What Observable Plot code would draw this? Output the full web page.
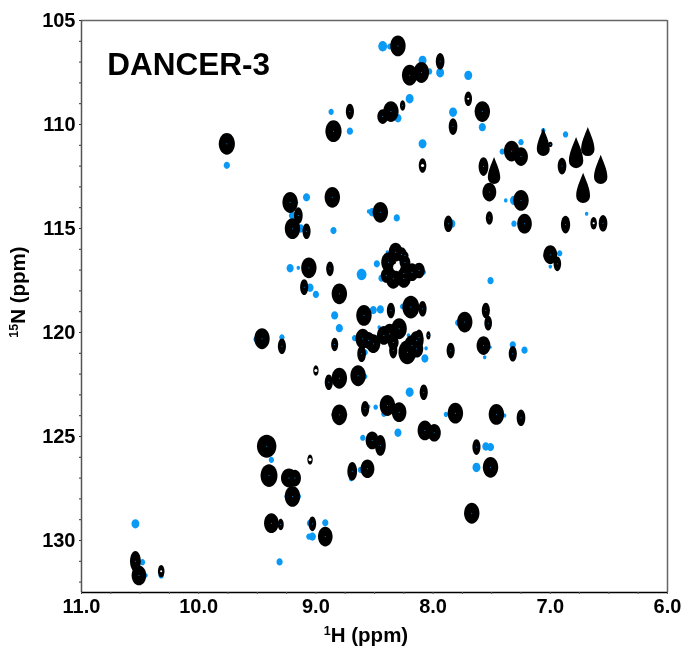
<!DOCTYPE html>
<html><head><meta charset="utf-8">
<script src="https://cdn.jsdelivr.net/npm/d3@7"></script>
<script src="https://cdn.jsdelivr.net/npm/@observablehq/plot@0.6"></script>
<style>html,body{margin:0;padding:0;background:#fff}svg{display:block;filter:blur(0.35px)}</style>
</head><body><div id="chart"></div>
<script>
// Peak tables: 1H shift (ppm), 15N shift (ppm), apparent peak size
const ovalH=[9.76,8.85,8.86,9.22,9.20,9.06,8.80,8.30,8.20,8.10,7.58,8.36,8.43,7.33,7.25,7.52,7.25,8.45,7.22,7.00,8.32,8.38,8.34,8.18,8.12,8.25,8.19,7.73,8.37,8.42,8.51,8.60,8.59,8.14,8.22,7.57,8.39,8.29,7.81,7.46,8.07,7.99,8.52,7.51,8.56,7.67,9.46,8.80,8.64,8.80,9.40,9.18,9.20,9.38,8.92,10.51,8.29,8.24,8.25,8.40,8.18,8.14,8.34,8.55,8.27];
const ovalN=[110.93,110.32,113.50,113.75,115.01,116.89,118.14,106.22,107.63,107.50,109.38,109.38,109.62,111.28,111.54,113.25,113.65,114.22,114.77,116.26,116.14,116.62,117.42,117.10,117.02,117.16,118.78,119.50,120.06,120.14,120.54,120.30,119.18,120.78,120.95,120.63,123.51,123.83,123.88,123.94,124.71,124.82,125.19,126.48,126.55,128.69,120.30,122.20,122.08,123.96,126.88,127.00,127.88,129.17,129.81,131.68,119.82,116.64,117.40,117.26,120.63,120.38,120.48,120.38,116.25];
const ovalSize=[21,21,20,20,20,20,20,20,20,20,20,20,14,20,18,18,20,20,19,18,18,19,19,17,15,15,22,20,19,18,18,19,20,17,23,18,20,19,20,20,19,17,17,20,18,20,20,20,20,20,22,16,20,19,19,19,20,14,18,14,20,18,14,16,14];

const slimH=[8.71,9.15,9.08,8.88,9.10,7.94,7.70,7.83,8.09,8.26,6.90,7.57,7.52,7.87,6.87,6.63,6.55,6.94,8.09,8.36,7.55,7.53,8.04,8.61,8.12,8.34,7.85,7.32,8.08,7.25,8.45,7.63,9.29,8.84,9.00,8.89,8.58,9.05,8.69,9.30,9.03,10.54,10.32];
const slimN=[109.38,114.38,115.13,116.94,117.82,106.96,108.76,110.10,111.97,109.09,112.00,112.02,114.49,114.77,114.81,114.75,114.75,116.70,118.86,118.94,118.94,119.55,120.14,121.02,120.25,120.87,120.87,121.02,122.87,124.10,125.43,125.51,120.66,120.58,121.83,122.39,123.67,126.11,126.67,129.23,129.20,131.00,131.48];
const slimSize=[15,16,15,14,15,16,14,16,14,10,16,18,13,16,17,12,16,14,15,15,15,14,8,16,16,15,15,15,15,16,20,15,15,13,10,15,15,10,18,11,14,20,12];

const dropH=[7.06,6.78,6.68,6.57,7.48,6.72];
const dropN=[110.84,111.35,110.82,112.16,112.21,113.05];
const dropSize=[27,30,28,28,26,29];

const roundH=[9.42,9.23,8.24,7.00];
const roundN=[125.47,126.99,116.30,110.96];
const roundSize=[22,18,8,5];

const blueH=[9.76,9.76,8.87,8.71,9.08,8.85,8.55,9.20,9.22,9.15,9.13,9.05,9.00,8.61,9.17,8.89,8.88,8.43,8.37,8.09,7.94,8.03,7.70,8.20,7.83,7.58,8.30,8.09,7.41,7.25,7.06,6.87,6.69,7.31,7.38,7.31,7.84,8.31,7.51,8.52,8.48,8.44,8.08,7.00,7.04,6.92,8.51,8.45,8.26,7.79,8.21,8.07,8.06,7.32,7.22,7.51,7.56,8.20,7.89,7.39,8.49,8.55,8.42,8.30,7.55,7.51,7.63,7.71,8.84,8.80,8.67,8.63,9.29,9.51,9.38,8.70,8.62,8.60,9.15,9.25,10.54,10.48,10.54,10.45,10.32,8.92,9.05,9.03,9.06,9.31,8.75,8.85,8.68,8.58,8.80,8.75,8.46,8.58,8.39];
const blueN=[111.96,110.90,109.39,110.32,113.50,115.10,114.18,114.38,116.91,116.89,115.00,117.85,118.17,117.21,113.75,113.51,113.85,106.24,106.25,106.92,107.51,107.45,107.64,108.76,109.41,110.13,109.70,110.93,111.30,110.85,110.29,110.48,114.29,113.65,113.65,114.77,114.77,114.49,117.51,114.22,116.70,117.39,117.10,116.83,116.30,116.19,118.92,118.89,118.75,119.53,120.14,121.25,120.76,120.59,120.85,120.71,121.19,122.87,123.94,123.99,123.59,123.56,123.91,124.82,125.48,125.51,126.49,128.72,119.18,119.79,120.27,119.18,120.23,120.32,126.12,127.03,126.60,125.06,127.88,127.88,129.20,131.04,131.68,131.68,131.68,129.15,129.17,129.81,129.81,131.03,123.96,123.96,122.12,122.12,121.83,118.12,119.75,120.95,116.14];
const blueSize=[7,8,6,7,8,7,4,8,8,4,8,8,7,11,5,8,4,10,6,9,9,6,9,9,9,8,8,9,6,6,5,6,4,9,4,6,8,7,7,8,7,7,5,4,6,6,8,8,6,6,4,8,4,7,7,3,4,9,5,4,5,4,6,8,8,8,9,6,8,8,6,5,6,6,6,5,6,6,6,5,9,6,5,4,6,7,7,8,6,7,5,5,5,5,4,4,4,6,4];

// Open contour centres showing the paper through the stack of levels
const ringH=[8.09,9.05,9.00,10.32,7.70,6.63,8.31];
const ringN=[111.97,126.11,121.83,131.48,108.76,114.75,116.86];
const ringSize=[3,3,3,2,2,2,7];

const xLabels=[11,10,9,8,7,6];
const xMinor=d3.range(0,21).map(i=>6+i*0.25);
const yLabels=[105,110,115,120,125,130];
const yMinor=d3.range(105,133);

const BLUE="#0a9af5", FONT="'Liberation Sans',Arial,sans-serif";
const table=(h,n,s)=>h.map((d,i)=>({h:d,n:n[i],s:s[i]/2*1.04}));
const ellipse=k=>({draw(c,size){const R=Math.sqrt(size/Math.PI);
  const K=0.5523,w=k*R;
  c.moveTo(0,-R);
  c.bezierCurveTo(K*w,-R,w,-K*R,w,0);
  c.bezierCurveTo(w,K*R,K*w,R,0,R);
  c.bezierCurveTo(-K*w,R,-w,K*R,-w,0);
  c.bezierCurveTo(-w,-K*R,-K*w,-R,0,-R);
  c.closePath();}});
const dropSym={draw(c,size){const R=Math.sqrt(size/Math.PI);const w=0.46*R,cy=R-w;
  c.moveTo(0,-R);
  c.bezierCurveTo(w*0.45,-R*0.45,w,cy-w*1.1,w,cy);
  c.arc(0,cy,w,0,Math.PI);
  c.bezierCurveTo(-w,cy-w*1.1,-w*0.45,-R*0.45,0,-R);
  c.closePath();}};
const OVAL=ellipse(0.74),SLIM=ellipse(0.52),ROUND=ellipse(0.85);

const ovals=table(ovalH,ovalN,ovalSize),slims=table(slimH,slimN,slimSize),
  drops=table(dropH,dropN,dropSize),rounds=table(roundH,roundN,roundSize),
  blues=table(blueH,blueN,blueSize),rings=table(ringH,ringN,ringSize);
const peak={x:"h",y:"n",r:"s"};
const all=[...ovals,...slims,...rounds];
const none=()=>"";

const plot=Plot.plot({
  width:681,height:648,marginLeft:81,marginRight:14,marginTop:20,marginBottom:56,
  style:{background:"#fff",fontFamily:FONT},
  x:{domain:[11,6]},y:{domain:[132.5,105]},r:{type:"identity"},
  marks:[
    Plot.dot(blues,{...peak,symbol:ROUND,fill:BLUE}),
    Plot.dot(ovals,{...peak,symbol:OVAL,fill:"#000"}),
    Plot.dot(slims,{...peak,symbol:SLIM,fill:"#000"}),
    Plot.dot(drops,{...peak,symbol:dropSym,fill:"#000"}),
    Plot.dot(rounds,{...peak,symbol:ROUND,fill:"#000"}),
    Plot.dot(all,{x:"h",y:"n",r:0.5,fill:BLUE}),
    Plot.dot(rings,{...peak,fill:"#fff"}),
    Plot.ruleY([105],{stroke:"#666",strokeWidth:1.5}),
    Plot.ruleX([6],{stroke:"#666",strokeWidth:1.5}),
    Plot.ruleX([11],{stroke:"#555",strokeWidth:1.5}),
    Plot.ruleY([132.5],{stroke:"#000",strokeWidth:1.5}),
    Plot.axisX({ticks:xMinor,tickSize:2,tickFormat:none,label:null,stroke:"#555"}),
    Plot.axisY({ticks:yMinor,tickSize:2,tickFormat:none,label:null,stroke:"#333"}),
    Plot.axisX({ticks:xLabels,tickSize:0,tickPadding:6,tickFormat:d3.format(".1f"),label:null,fontSize:20,fontWeight:"bold",fill:"#000"}),
    Plot.axisY({ticks:yLabels,tickSize:0,tickPadding:6,label:null,fontSize:20,fontWeight:"bold",fill:"#000"}),
    Plot.text(["DANCER-3"],{x:[10.78],y:[107.12],fontSize:31.5,fontWeight:"bold",fill:"#000",textAnchor:"start"})
  ]
});
document.getElementById("chart").append(plot);

// Axis titles need true superscripts
const svg=d3.select(plot);
function axisTitle(transform,sup,rest){
  const t=svg.append("text").attr("transform",transform).attr("text-anchor","middle")
    .attr("font-family",FONT).attr("font-weight","bold").attr("font-size",20.5).attr("fill","#000");
  t.append("tspan").attr("font-size",12.5).attr("dy",-7).text(sup);
  t.append("tspan").attr("dy",7).text(rest);
}
axisTitle("translate(366,642)","1","H (ppm)");
axisTitle("translate(25,292) rotate(-90)","15","N (ppm)");
</script></body></html>
